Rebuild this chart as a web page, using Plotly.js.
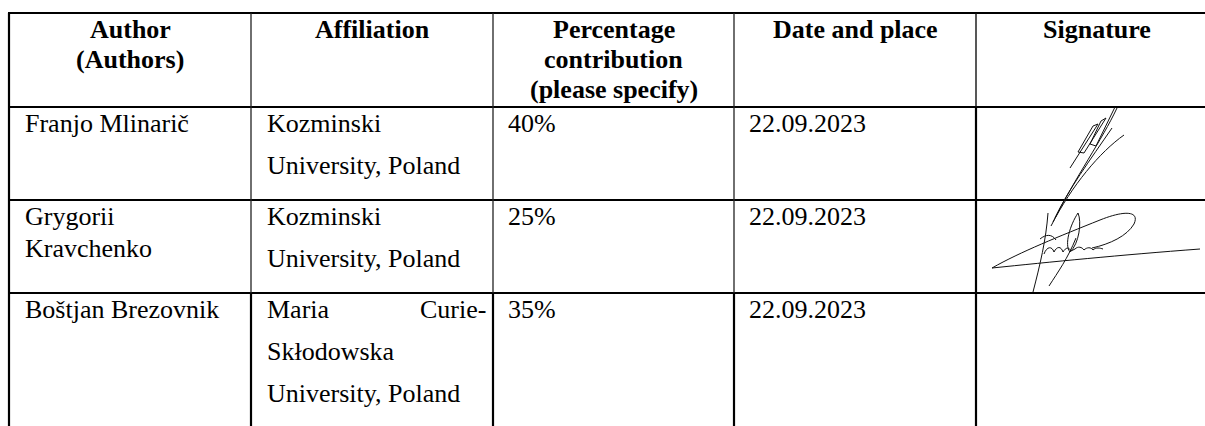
<!DOCTYPE html>
<html><head><meta charset="utf-8">
<script src="https://cdn.plot.ly/plotly-3.0.1.min.js"></script>
<style>html,body{margin:0;padding:0;background:#fff;}#chart{width:1205px;height:426px;}</style>
</head><body><div id="chart"></div>
<script>
// ---- data ----
const headers = ['Author<br>(Authors)', 'Affiliation', 'Percentage<br>contribution<br>(please specify)', 'Date and place', 'Signature'];
const authors = ['Franjo Mlinarič', 'Grygorii<br>Kravchenko', 'Boštjan Brezovnik'];
const affiliations = ['Kozminski<br>University, Poland', 'Kozminski<br>University, Poland', 'Maria Curie-<br>Skłodowska<br>University, Poland'];
const contributions = [40, 25, 35];
const dates = ['22.09.2023', '22.09.2023', '22.09.2023'];

// ---- layout geometry (pixel-mapped data units) ----
const colEdges = [9, 251, 493, 734, 976, 1218];
const rowEdges = [13, 107, 200, 293, 440];
const FONT = 'Liberation Serif, Times New Roman, Times, serif';
const FS = 26;
const padL = 15, padR = 6;
const headBase = 38, headGap = 30;
const bodyOff = 25, nameGap = 32, affGap = 42;
const mid = 8.5; // baseline -> box middle

const ann = [];
function addText(txt, x, baseline, anchor, bold) {
  ann.push({xref:'x', yref:'y', x:x, y:baseline - mid, text: bold ? '<b>'+txt+'</b>' : txt,
    showarrow:false, xanchor:anchor, yanchor:'middle', align:anchor,
    font:{family:FONT, size:FS, color:'#000'}, borderpad:0});
}
// header
headers.forEach((h, c) => {
  const cx = (colEdges[c] + colEdges[c+1]) / 2;
  h.split('<br>').forEach((ln, i) => addText(ln, cx, headBase + i*headGap, 'center', true));
});
// body
for (let r = 0; r < authors.length; r++) {
  const top = rowEdges[r+1];
  const b0 = top + bodyOff;
  authors[r].split('<br>').forEach((ln, i) => addText(ln, colEdges[0] + padL, b0 + i*nameGap, 'left'));
  const lines = affiliations[r].split('<br>');
  lines.forEach((ln, i) => {
    const y = b0 + i*affGap;
    const words = ln.split(' ');
    if (i < lines.length - 1 && words.length > 1) {
      addText(words[0], colEdges[1] + padL, y, 'left');
      addText(words[words.length-1], colEdges[2] - padR, y, 'right');
    } else {
      addText(ln, colEdges[1] + padL, y, 'left');
    }
  });
  addText(contributions[r] + '%', colEdges[2] + padL - 1, b0, 'left');
  addText(dates[r], colEdges[3] + padL - 1, b0, 'left');
}

// ---- grid lines ----
const shapes = [];
function line(x0, y0, x1, y1, w, col) {
  shapes.push({type:'line', xref:'x', yref:'y', x0:x0, y0:y0, x1:x1, y1:y1, line:{color:col||'#000', width:w}});
}
for (let i = 0; i < 4; i++) line(colEdges[0]-1, rowEdges[i], 1210, rowEdges[i], 2.2);
line(colEdges[0], rowEdges[0], colEdges[0], 440, 2.2);
for (let c = 1; c <= 3; c++) {
  line(colEdges[c], rowEdges[0], colEdges[c], rowEdges[3], 1.3, '#222');
  line(colEdges[c], rowEdges[3], colEdges[c], 440, 2.2);
}
line(colEdges[4], rowEdges[0], colEdges[4], rowEdges[1], 1.4, '#111');
line(colEdges[4], rowEdges[1], colEdges[4], 440, 2.2);

// ---- signatures (hand-drawn strokes) ----
const sigPaths = [
  'M1070,168 L1098,124 L1093,126 L1078,152 L1084,153 L1106,118 L1101,121 L1090,144 L1096,146 L1115,107',
  'M1124,135 C1100,152 1072,185 1051,226',
  'M1117,108 C1102,140 1076,176 1053,222',
  'M1112,128 C1090,160 1068,190 1055,218',
  'M1048,213 C1046,240 1040,265 1033,292',
  'M1078,213 C1070,225 1064,245 1070,252 C1079,244 1082,222 1078,213',
  'M1076,238 C1068,258 1058,272 1049,286',
  'M992,268 C1020,252 1060,236 1100,220 C1125,210 1140,211 1134,224 C1127,236 1110,244 1092,248',
  'M992,268 C1050,262 1120,255 1200,249',
  'M1040,239 C1046,234 1052,234 1056,240',
  'M1044,254 C1047,246 1052,246 1054,252 C1057,246 1061,246 1063,252 C1066,247 1069,247 1071,251 L1075,249 C1078,246 1082,247 1084,250 C1087,247 1091,247 1093,250 C1096,247 1100,248 1103,249'
];
sigPaths.forEach(p => shapes.push({type:'path', xref:'x', yref:'y', path:p, line:{color:'#111', width:1}}));

const data = [{x:[0], y:[0], type:'scatter', mode:'markers', marker:{opacity:0}, hoverinfo:'skip', showlegend:false}];
const layout = {
  width:1205, height:426, margin:{l:0, r:0, t:0, b:0, pad:0},
  paper_bgcolor:'#fff', plot_bgcolor:'#fff', showlegend:false, hovermode:false,
  font:{family:FONT},
  xaxis:{range:[0,1205], visible:false, fixedrange:true},
  yaxis:{range:[426,0], visible:false, fixedrange:true},
  annotations: ann, shapes: shapes
};
Plotly.newPlot('chart', data, layout, {staticPlot:true, displayModeBar:false});
</script></body></html>
